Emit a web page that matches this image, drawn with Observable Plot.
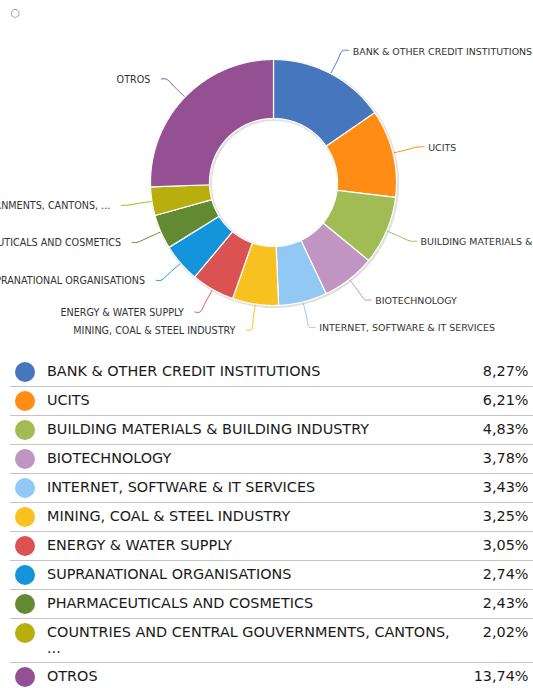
<!DOCTYPE html>
<html>
<head>
<meta charset="utf-8">
<script src="https://cdn.jsdelivr.net/npm/d3@7"></script>
<script src="https://cdn.jsdelivr.net/npm/@observablehq/plot@0.6"></script>
<style>
  html, body { margin: 0; padding: 0; background: #fff; overflow: hidden; }
  body { width: 533px; font-family: "DejaVu Sans", sans-serif; }
  #wrap { position: relative; width: 533px; }
  #icon { position: absolute; left: 10.5px; top: 5.5px; font-size: 11px; color: #8a8a8a; line-height: 14px; }
  #chart svg { display: block; overflow: hidden; }
  table { border-collapse: collapse; margin-left: 10px; width: 523px; table-layout: fixed; font-size: 14.4px; color: #1a1a1a; }
  td { padding: 6.2px 0; line-height: 15.6px; vertical-align: top; border-bottom: 1px solid #c4c4c4; }
  td.dot { width: 37px; padding: 4px 0 0 0; }
  td.dot span { display: block; width: 20px; height: 20px; border-radius: 50%; margin-left: 5px; }
  td.name { width: 405px; }
  td.pct { text-align: right; padding-right: 4.5px; }
</style>
</head>
<body>
<div id="wrap">
  <div id="icon">○</div>
  <div id="chart"></div>
  <table id="legend"></table>
</div>
<script>
const names = [
  "BANK & OTHER CREDIT INSTITUTIONS",
  "UCITS",
  "BUILDING MATERIALS & BUILDING INDUSTRY",
  "BIOTECHNOLOGY",
  "INTERNET, SOFTWARE & IT SERVICES",
  "MINING, COAL & STEEL INDUSTRY",
  "ENERGY & WATER SUPPLY",
  "SUPRANATIONAL ORGANISATIONS",
  "PHARMACEUTICALS AND COSMETICS",
  "COUNTRIES AND CENTRAL GOUVERNMENTS, CANTONS, ...",
  "OTROS"
];
const shares = [8.27, 6.21, 4.83, 3.78, 3.43, 3.25, 3.05, 2.74, 2.43, 2.02, 13.74];
const colors = ["#4677BE", "#FF8C14", "#A1BC55", "#C195C2", "#92C9F4", "#F7C120", "#DA5252", "#1495DB", "#628A33", "#B8AF0F", "#954F93"];

// layout constants
const W = 533, H = 358, CX = 273, CY = 182;
const R_OUT = 123, R_IN = 64, R_LAB = 149;

const arcs = d3.pie().sort(null).value(d => d)(shares);

// slice polygons
const slicePts = [];
arcs.forEach((a, i) => {
  const n = Math.max(3, Math.ceil((a.endAngle - a.startAngle) / 0.01));
  for (let k = 0; k <= n; k++) {
    const t = a.startAngle + (a.endAngle - a.startAngle) * k / n;
    slicePts.push({name: names[i], x: R_OUT * Math.sin(t), y: R_OUT * Math.cos(t)});
  }
  for (let k = n; k >= 0; k--) {
    const t = a.startAngle + (a.endAngle - a.startAngle) * k / n;
    slicePts.push({name: names[i], x: R_IN * Math.sin(t), y: R_IN * Math.cos(t)});
  }
});

// shadow rings
const ringPts = [];
[R_OUT, R_IN].forEach(r => {
  for (let k = 0; k <= 360; k++) {
    const t = k * Math.PI / 180;
    ringPts.push({ring: r, x: r * Math.sin(t), y: r * Math.cos(t)});
  }
});

// labels and connectors
const labels = arcs.map((a, i) => {
  const m = (a.startAngle + a.endAngle) / 2;
  const right = Math.sin(m) >= 0;
  const ax = R_LAB * Math.sin(m), ay = R_LAB * Math.cos(m);
  return {name: names[i], m, right, ax, ay, tx: ax + (right ? 10 : -16), ty: ay - 1};
});
const connPts = [];
labels.forEach(l => {
  const s = [124, 137].map(r => ({name: l.name, x: r * Math.sin(l.m), y: r * Math.cos(l.m)}));
  connPts.push(...s);
  connPts.push({name: l.name, x: l.ax, y: l.ay});
  connPts.push({name: l.name, x: l.ax + (l.right ? 6 : -5), y: l.ay});
});

const plot = Plot.plot({
  width: W,
  height: H,
  margin: 0,
  x: {domain: [-CX, W - CX], axis: null},
  y: {domain: [CY - H, CY], axis: null},
  color: {domain: names, range: colors},
  style: {fontFamily: "DejaVu Sans, sans-serif", overflow: "hidden", background: "#fff"},
  marks: [
    Plot.line(ringPts, {x: "x", y: "y", z: "ring", stroke: "#000", strokeOpacity: 0.12, strokeWidth: 3, dx: 1, dy: 1}),
    Plot.line(slicePts, {x: "x", y: "y", z: "name", fill: "name", stroke: "#fff", strokeWidth: 1.2, curve: "linear-closed", strokeLinejoin: "round"}),
    Plot.line(connPts, {x: "x", y: "y", z: "name", stroke: "name", strokeWidth: 1, curve: "catmull-rom"}),
    Plot.text(labels.filter(d => d.right), {x: "tx", y: "ty", text: "name", textAnchor: "start", fontSize: 9.45, fill: "#333"}),
    Plot.text(labels.filter(d => !d.right), {x: "tx", y: "ty", text: "name", textAnchor: "end", fontSize: 9.6, fill: "#333"})
  ]
});
document.getElementById("chart").appendChild(plot);

// legend table
const rows = d3.select("#legend").selectAll("tr").data(names).join("tr");
rows.append("td").attr("class", "dot").append("span").style("background", (d, i) => colors[i]);
rows.append("td").attr("class", "name").text(d => d);
rows.append("td").attr("class", "pct").text((d, i) => shares[i].toFixed(2).replace(".", ",") + "%");
</script>
</body>
</html>
